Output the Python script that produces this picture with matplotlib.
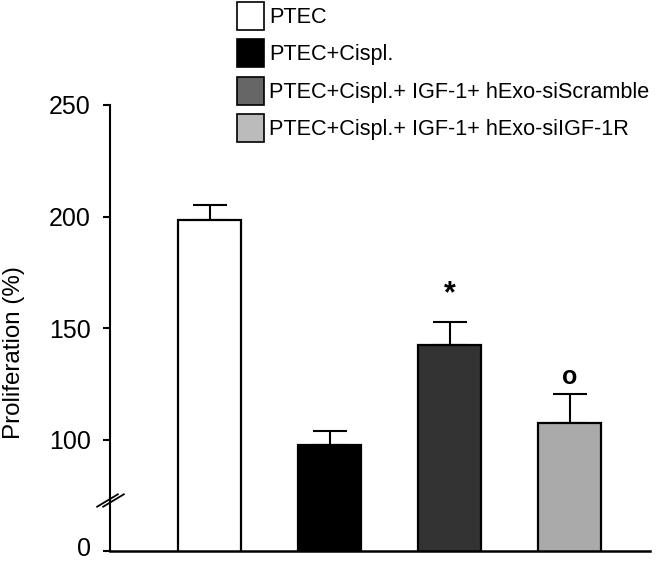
import matplotlib
matplotlib.use('Agg')
import matplotlib.pyplot as plt
from matplotlib.patches import Patch

plt.rcParams['font.family'] = ['Liberation Sans', 'DejaVu Sans']

# data
groups = ['PTEC', 'PTEC+Cispl.', 'PTEC+Cispl.+ IGF-1+ hExo-siScramble',
          'PTEC+Cispl.+ IGF-1+ hExo-siIGF-1R']
proliferation = [198.5, 97.5, 142.5, 107.5]
sem = [6.5, 6.5, 10.0, 13.0]
marks = ['', '', '*', 'o']
bar_colors = ['#ffffff', '#000000', '#333333', '#aaaaaa']
legend_colors = ['#ffffff', '#000000', '#666666', '#bbbbbb']
yticks = [50, 100, 150, 200, 250]
yticklabels = ['0', '100', '150', '200', '250']

fig = plt.figure(figsize=(6.6, 5.61), dpi=100)
ax = fig.add_axes([110 / 660, 10 / 561, 540 / 660, 446 / 561])

x = list(range(len(groups)))
ax.bar(x, proliferation, width=0.525, color=bar_colors, edgecolor='black',
       linewidth=1.6, zorder=2)
ax.errorbar(x, proliferation, yerr=[[0] * len(sem), sem], fmt='none',
            ecolor='black', elinewidth=1.5, capsize=12, capthick=1.5, zorder=1)

# significance marks above error bars
mark_style = {'*': dict(offset=20, size=22), 'o': dict(offset=12, size=18)}
for xi, val, err, m in zip(x, proliferation, sem, marks):
    if m:
        st = mark_style[m]
        ax.annotate(m, (xi, val + err), xytext=(0, st['offset']),
                    textcoords='offset points', ha='center', va='center',
                    fontsize=st['size'], fontweight='bold')

ax.set_xlim(-0.83, 3.67)
ax.set_ylim(50, 250)
ax.set_yticks(yticks)
# the bottom "0" label sits on the figure edge, so it is drawn separately
ax.set_yticklabels([''] + yticklabels[1:])
ax.tick_params(axis='y', labelsize=18, length=5, width=1.5, pad=9)
ax.annotate(yticklabels[0], (0, yticks[0]), xycoords=ax.get_yaxis_transform(),
            xytext=(-14, -3.6), textcoords='offset points', ha='right',
            va='baseline', fontsize=18, annotation_clip=False)
ax.set_xticks([])
ax.spines['top'].set_visible(False)
ax.spines['right'].set_visible(False)
ax.spines['left'].set_linewidth(1.5)
ax.spines['bottom'].set_linewidth(1.8)
ax.set_ylabel('Proliferation (%)', fontsize=17.4)
ax.yaxis.set_label_coords(-0.157, 0.445)

# axis break marks
brk = [(-1, -0.6), (1, 0.6)]
for dx in (-0.006, 0.006):
    ax.plot([dx], [0.114], marker=brk, markersize=16, color='black',
            mew=1.3, linestyle='none', transform=ax.transAxes, clip_on=False)

handles = [Patch(facecolor=c, edgecolor='black', linewidth=1.2)
           for c in legend_colors]
fig.legend(handles, groups, loc='upper left', bbox_to_anchor=(237 / 660, 0.997),
           frameon=False, fontsize=15.6, handlelength=1.25, handleheight=1.6,
           handletextpad=0.22, labelspacing=0.45, borderpad=0.0,
           borderaxespad=0)

fig.savefig('out.png', dpi=100)
